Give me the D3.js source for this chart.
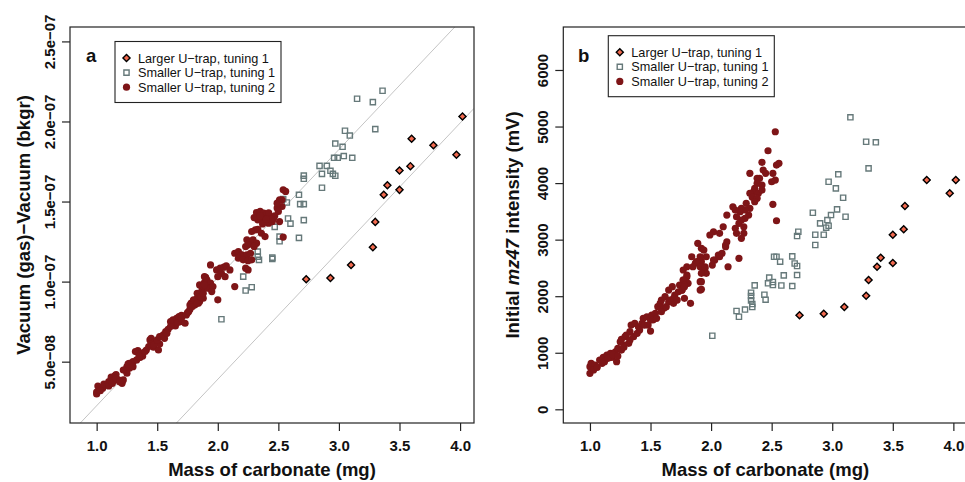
<!DOCTYPE html>
<html>
<head>
<meta charset="utf-8">
<script src="https://cdn.jsdelivr.net/npm/d3@7"></script>
<style>
  body { margin: 0; background: #fff; }
  svg { display: block; font-family: "Liberation Sans", Arial, Helvetica, sans-serif; }
</style>
</head>
<body>
<svg id="chart" width="965" height="482"></svg>
<script>
// ---- data ----
// series names, as in the legends
var seriesNames = ["Larger U\u2212trap, tuning 1", "Smaller U\u2212trap, tuning 1", "Smaller U\u2212trap, tuning 2"];

// x axis ticks (mass of carbonate, mg)
var xTicks = [1.0, 1.5, 2.0, 2.5, 3.0, 3.5, 4.0];

// panel a: y ticks and labels (vacuum difference)
var yTicksA = [5e-8, 1e-7, 1.5e-7, 2e-7, 2.5e-7];
var yLabelsA = ["5.0e\u221208", "1.0e\u221207", "1.5e\u221207", "2.0e\u221207", "2.5e\u221207"];
// panel b: y ticks and labels (initial mz47 intensity, mV)
var yTicksB = [0, 1000, 2000, 3000, 4000, 5000, 6000];
var yLabelsB = ["0", "1000", "2000", "3000", "4000", "5000", "6000"];

// grey reference lines in panel a: y = slope * mass + intercept
var fitSlope = [8.0e-8, 8.0e-8];
var fitIntercept = [-5.75e-8, -1.21e-7];

// Larger U-trap, tuning 1 (same samples in both panels)
var largeMass = [2.73, 2.93, 3.10, 3.28, 3.30, 3.37, 3.40, 3.50, 3.50, 3.59, 3.60, 3.78, 3.97, 4.02];
var largeVac = [10.15, 10.23, 11.04, 12.15, 13.73, 15.42, 16.02, 15.73, 16.94, 17.21, 18.92, 18.52, 17.92, 20.31]; // x 1e-8
var largeInt = [1662, 1690, 1809, 2009, 2287, 2522, 2681, 2587, 3088, 3183, 3595, 4055, 3820, 4055];

// Smaller U-trap, tuning 1
var small1MassA = [3.36, 3.15, 3.28, 3.30, 3.05, 3.09, 2.97, 3.03, 2.96, 2.99, 3.04, 3.11, 2.84, 2.90,
  2.86, 2.93, 2.95, 2.97, 2.71, 2.71, 2.86, 2.67, 2.54, 2.57, 2.68, 2.71, 2.58, 2.60, 2.71, 2.67,
  2.51, 2.51, 2.45, 2.45, 2.47, 2.33, 2.33, 2.34, 2.21, 2.23, 2.28, 2.03];
var small1VacA = [21.92, 21.42, 21.21, 19.52, 19.42, 19.12, 18.62, 18.42, 17.73, 17.73, 17.84, 17.73, 17.23, 17.23,
  16.73, 16.92, 16.73, 16.61, 16.62, 16.42, 15.86, 15.42, 15.15, 14.94, 14.84, 14.84, 13.94, 13.62, 13.84, 12.73,
  12.81, 12.52, 11.50, 11.42, 13.42, 11.87, 11.56, 11.36, 10.31, 9.44, 9.65, 7.65]; // x 1e-8
var small1MassB = [3.15, 3.28, 3.36, 3.30, 3.05, 2.97, 3.03, 3.09, 3.04, 2.84, 2.99, 3.11, 2.96, 2.90,
  2.97, 2.95, 2.72, 2.71, 2.86, 2.93, 2.86, 2.52, 2.54, 2.57, 2.67, 2.69, 2.71, 2.71, 2.60, 2.48,
  2.47, 2.51, 2.51, 2.58, 2.67, 2.36, 2.33, 2.33, 2.33, 2.34, 2.34, 2.44, 2.45, 2.28, 2.21, 2.23, 2.01];
var small1IntB = [5163, 4731, 4721, 4261, 4155, 4024, 3907, 3741, 3536, 3476, 3435, 3405, 3347, 3288,
  3246, 3211, 3140, 3064, 3087, 3087, 2905, 2698, 2698, 2610, 2705, 2578, 2534, 2374, 2369, 2330,
  2228, 2251, 2198, 2189, 2180, 2192, 2062, 2003, 1927, 1862, 1809, 2026, 1938, 1764, 1738, 1637, 1301];

// Smaller U-trap, tuning 2
var small2MassA = [1.00, 1.01, 1.05, 1.00, 1.10, 1.12, 1.15, 1.14, 1.18, 1.21, 1.22, 1.23, 1.25, 1.27,
  1.30, 1.27, 1.33, 1.36, 1.38, 1.34, 1.32, 1.37, 1.41, 1.44, 1.45, 1.48, 1.43, 1.47, 1.51, 1.55,
  1.57, 1.59, 1.61, 1.63, 1.66, 1.68, 1.65, 1.69, 1.73, 1.75, 1.77, 1.78, 1.80, 1.83, 1.85, 1.81,
  1.87, 1.85, 1.89, 1.90, 2.54, 2.56, 2.51, 2.53, 2.49, 2.50, 2.32, 2.35, 2.38, 2.40, 2.43, 2.46,
  2.36, 2.33, 2.39, 2.42, 2.45, 2.47, 2.51, 2.54, 2.28, 2.31, 2.33, 2.36, 2.39, 2.24, 2.27, 2.29,
  2.32, 2.23, 2.14, 2.17, 2.20, 2.24, 2.27, 2.17, 2.21, 2.25, 2.28, 2.23, 2.25, 1.94, 1.99, 2.02,
  2.05, 2.07, 2.10, 2.03, 2.06, 2.00, 1.89, 1.91, 1.94, 1.88, 1.92, 1.96, 1.95, 1.83, 1.85, 1.88,
  1.80, 1.84, 1.77, 2.14, 2.00, 2.30, 2.35, 2.42, 2.44, 2.37, 2.40, 2.25, 2.30, 2.49, 2.53, 1.06,
  1.16, 1.29, 1.52, 1.70, 1.03, 1.10, 1.13, 1.16, 1.19, 1.25, 1.22, 1.26, 1.30, 1.35, 1.40, 1.45,
  1.47, 1.50, 1.52, 1.56, 1.58, 1.61, 1.67, 1.70, 1.74, 1.76, 1.79, 1.83, 1.86, 1.88, 1.89];
var small2VacA = [2.98, 3.48, 3.34, 3.10, 3.75, 4.03, 4.11, 3.81, 3.86, 3.65, 3.86, 4.48, 4.69, 4.90,
  5.00, 4.59, 5.11, 5.27, 5.36, 5.69, 5.63, 5.53, 5.73, 6.36, 6.46, 6.25, 5.94, 5.90, 5.73, 6.67,
  6.88, 7.02, 7.50, 7.61, 7.71, 7.81, 7.23, 7.50, 7.40, 8.06, 8.27, 8.65, 8.81, 8.96, 8.75, 8.54,
  9.48, 9.79, 9.94, 10.27, 15.73, 15.63, 15.11, 14.69, 14.59, 14.38, 14.31, 14.38, 14.28, 14.17, 14.06, 13.96,
  13.96, 13.86, 13.75, 13.65, 13.75, 14.11, 13.75, 12.78, 13.13, 13.23, 13.27, 13.02, 12.81, 12.61, 12.50, 12.61,
  12.40, 12.19, 11.77, 11.88, 11.67, 11.67, 11.77, 11.46, 11.36, 11.31, 11.36, 10.84, 10.73, 11.04, 10.73, 10.84,
  10.90, 10.98, 10.73, 10.52, 10.31, 10.31, 10.31, 10.11, 9.90, 9.69, 9.59, 9.69, 9.38, 9.27, 9.06, 8.96,
  8.86, 8.65, 8.54, 9.69, 8.86, 14.00, 14.10, 14.30, 13.90, 13.60, 13.90, 12.30, 12.20, 14.90, 15.11, 3.60,
  4.20, 4.75, 6.10, 7.90, 3.19, 3.48, 3.65, 3.96, 3.75, 4.28, 4.48, 4.86, 4.69, 5.36, 5.63, 6.11,
  6.04, 6.36, 6.56, 6.46, 6.77, 7.19, 7.44, 7.71, 7.92, 8.13, 8.44, 8.65, 9.06, 9.27, 9.79]; // x 1e-8
var small2MassB = [1.00, 1.00, 1.01, 1.04, 1.08, 1.11, 1.14, 1.12, 1.17, 1.18, 1.22, 1.21, 1.23, 1.25,
  1.26, 1.29, 1.28, 1.32, 1.30, 1.33, 1.34, 1.37, 1.40, 1.43, 1.44, 1.47, 1.50, 1.51, 1.54, 1.50,
  1.56, 1.58, 1.59, 1.62, 1.61, 1.65, 1.68, 1.66, 1.69, 1.70, 1.73, 1.74, 1.77, 1.80, 1.81, 1.83,
  1.78, 1.91, 1.92, 1.89, 1.84, 1.87, 1.92, 1.95, 2.01, 2.03, 2.06, 2.09, 2.12, 2.14, 2.23, 2.53,
  2.47, 2.42, 2.32, 2.43, 2.45, 2.54, 2.56, 2.51, 2.50, 2.53, 2.38, 2.40, 2.38, 2.42, 2.36, 2.35,
  2.39, 2.42, 2.32, 2.34, 2.38, 2.36, 2.51, 2.54, 2.29, 2.32, 2.28, 2.25, 2.24, 2.31, 2.28, 2.25,
  2.21, 2.20, 2.18, 2.23, 2.27, 2.20, 2.21, 2.27, 2.25, 2.13, 2.10, 2.02, 2.07, 1.99, 1.92, 1.94,
  2.12, 2.13, 2.07, 2.02, 1.96, 1.91, 1.88, 1.91, 1.85, 1.95, 1.96, 1.92, 1.80, 1.77, 1.80, 1.77,
  1.78, 1.76, 1.92, 1.91, 1.03, 1.06, 1.10, 1.15, 1.19, 1.23, 1.26, 1.28, 1.33, 1.36, 1.39, 1.41,
  1.45, 1.48, 1.52, 1.55, 1.59, 1.63, 1.65, 1.69, 1.72, 1.76, 1.78];
var small2IntB = [637, 754, 813, 783, 872, 919, 960, 842, 990, 919, 842, 1018, 1078, 1195,
  1238, 1284, 1137, 1167, 1314, 1372, 1490, 1520, 1460, 1520, 1609, 1637, 1579, 1667, 1697, 1384,
  1814, 1874, 1932, 1991, 1786, 2109, 2168, 1932, 1874, 2021, 2079, 2198, 2286, 2344, 2228, 1874,
  1962, 2256, 2122, 2935, 2698, 2581, 2610, 2521, 2551, 2640, 2728, 2758, 2875, 2521, 2670, 4908,
  4572, 4367, 4172, 4231, 4172, 4319, 4349, 4172, 4024, 4054, 4084, 4084, 3996, 3966, 3907, 3847,
  3819, 3877, 3819, 3748, 3730, 3670, 3624, 3334, 3642, 3554, 3524, 3554, 3494, 3435, 3377, 3347,
  3405, 3524, 3582, 3289, 3228, 3200, 3112, 3112, 3023, 3435, 3228, 3140, 3112, 3082, 2847, 2816,
  2905, 2963, 2698, 2640, 2698, 2698, 2610, 2521, 2521, 2493, 2405, 2405, 2521, 2463, 2374, 2286,
  2198, 2109, 2256, 2109, 695, 742, 813, 902, 960, 942, 1048, 1096, 1225, 1284, 1344, 1402,
  1490, 1490, 1579, 1609, 1726, 1814, 1902, 1962, 1932, 2109, 2168];

// ---- drawing ----
var svg = d3.select("#chart");
var fillLarge = "#f26a4f", strokeSmall1 = "#66797a", fillSmall2 = "#7e1517";

var diamond = d3.symbol(d3.symbolSquare, 25);
var square = d3.symbol(d3.symbolSquare, 27);

function zip(a, b) { return a.map(function(v, i) { return [v, b[i]]; }); }

function drawPanel(p) {
	var top = 27, bottom = 423;
	var x = d3.scaleLinear().domain([0.78, 4.115]).range([p.left, p.left + 404]);
	var y = d3.scaleLinear().domain(p.yDomain).range([bottom, top]);
	var g = svg.append("g");

	var clipId = "clip" + p.letter;
	g.append("clipPath").attr("id", clipId)
		.append("rect").attr("x", p.left).attr("y", top).attr("width", 404).attr("height", bottom - top);
	var plot = g.append("g").attr("clip-path", "url(#" + clipId + ")");

	// reference lines
	(p.lines || []).forEach(function(l) {
		var d0 = x.domain();
		plot.append("line")
			.attr("x1", x(d0[0])).attr("y1", y(l[0] * d0[0] + l[1]))
			.attr("x2", x(d0[1])).attr("y2", y(l[0] * d0[1] + l[1]))
			.attr("stroke", "#c4c4c4").attr("stroke-width", 1);
	});

	// points: larger trap, smaller trap t1, smaller trap t2
	plot.selectAll(".dia").data(p.large).enter().append("path")
		.attr("d", diamond)
		.attr("transform", function(d) { return "translate(" + x(d[0]) + "," + y(d[1]) + ") rotate(45)"; })
		.attr("fill", fillLarge).attr("stroke", "#000").attr("stroke-width", 1.4);
	plot.selectAll(".sq").data(p.small1).enter().append("path")
		.attr("d", square)
		.attr("transform", function(d) { return "translate(" + x(d[0]) + "," + y(d[1]) + ")"; })
		.attr("fill", "none").attr("stroke", strokeSmall1).attr("stroke-width", 1.4);
	plot.selectAll(".dot").data(p.small2).enter().append("circle")
		.attr("cx", function(d) { return x(d[0]); })
		.attr("cy", function(d) { return y(d[1]); })
		.attr("r", 3.6).attr("fill", fillSmall2);

	// box
	g.append("rect").attr("x", p.left).attr("y", top).attr("width", 404).attr("height", bottom - top)
		.attr("fill", "none").attr("stroke", "#222").attr("stroke-width", 1.2);

	// x axis
	var xa = g.append("g").attr("transform", "translate(0," + bottom + ")")
		.call(d3.axisBottom(x).tickValues(xTicks).tickSize(8).tickFormat(d3.format(".1f")));
	xa.select(".domain").remove();
	xa.selectAll("line").attr("stroke", "#222").attr("stroke-width", 1.2);
	xa.selectAll("text").attr("y", 17).attr("font-size", 15).attr("font-weight", "bold")
		.attr("fill", "#111").attr("font-family", null);

	// y axis, labels parallel to the axis
	var ya = g.append("g").attr("transform", "translate(" + p.left + ",0)")
		.call(d3.axisLeft(y).tickValues(p.yTicks).tickSize(8)
			.tickFormat(function(d, i) { return p.yLabels[i]; }));
	ya.select(".domain").remove();
	ya.selectAll("line").attr("stroke", "#222").attr("stroke-width", 1.2);
	ya.selectAll("text")
		.attr("transform", "rotate(-90)")
		.attr("x", 0).attr("y", -15).attr("dy", 0)
		.attr("text-anchor", "middle").attr("font-size", 15).attr("font-weight", "bold")
		.attr("fill", "#111").attr("font-family", null);

	// axis titles
	g.append("text").attr("x", p.left + 202).attr("y", 476)
		.attr("text-anchor", "middle").attr("font-size", 18.5).attr("font-weight", "bold").attr("fill", "#111")
		.text("Mass of carbonate (mg)");
	var yt = g.append("text")
		.attr("transform", "translate(" + p.yTitleX + ",225) rotate(-90)")
		.attr("text-anchor", "middle").attr("font-size", 18.5).attr("font-weight", "bold").attr("fill", "#111");
	p.yTitle.forEach(function(part) {
		yt.append("tspan").attr("font-style", part[1] ? "italic" : null).text(part[0]);
	});

	// panel letter
	g.append("text").attr("x", p.letterX).attr("y", 62).attr("font-size", 18.5).attr("font-weight", "bold")
		.attr("fill", "#111").text(p.letter);

	// legend
	var lg = g.append("g").attr("transform", "translate(" + p.legend[0] + "," + p.legend[1] + ")");
	lg.append("rect").attr("width", 166).attr("height", 61)
		.attr("fill", "#fff").attr("stroke", "#222").attr("stroke-width", 1.1);
	seriesNames.forEach(function(name, i) {
		var cy = 16.5 + i * 14.6;
		if (i == 0) lg.append("path").attr("d", diamond)
			.attr("transform", "translate(11.5," + cy + ") rotate(45)")
			.attr("fill", fillLarge).attr("stroke", "#000").attr("stroke-width", 1.4);
		if (i == 1) lg.append("path").attr("d", square)
			.attr("transform", "translate(11.5," + cy + ")")
			.attr("fill", "none").attr("stroke", strokeSmall1).attr("stroke-width", 1.4);
		if (i == 2) lg.append("circle").attr("cx", 11.5).attr("cy", cy).attr("r", 3.6).attr("fill", fillSmall2);
		lg.append("text").attr("x", 23).attr("y", cy + 4.6).attr("font-size", 12.7).attr("fill", "#111").text(name);
	});
}

drawPanel({
	letter: "a", letterX: 86, left: 70,
	yDomain: [1.17e-8, 2.59e-7], yTicks: yTicksA, yLabels: yLabelsA,
	yTitleX: 30, yTitle: [["Vacuum (gas)\u2212Vacuum (bkgr)", false]],
	legend: [115, 41.5],
	lines: zip(fitSlope, fitIntercept),
	large: zip(largeMass, largeVac.map(function(v) { return v * 1e-8; })),
	small1: zip(small1MassA, small1VacA.map(function(v) { return v * 1e-8; })),
	small2: zip(small2MassA, small2VacA.map(function(v) { return v * 1e-8; }))
});

drawPanel({
	letter: "b", letterX: 578, left: 563.3,
	yDomain: [-242, 6760], yTicks: yTicksB, yLabels: yLabelsB,
	yTitleX: 519, yTitle: [["Initial ", false], ["mz47", true], [" intensity (mV)", false]],
	legend: [608.3, 35.7],
	large: zip(largeMass, largeInt),
	small1: zip(small1MassB, small1IntB),
	small2: zip(small2MassB, small2IntB)
});
</script>
</body>
</html>
